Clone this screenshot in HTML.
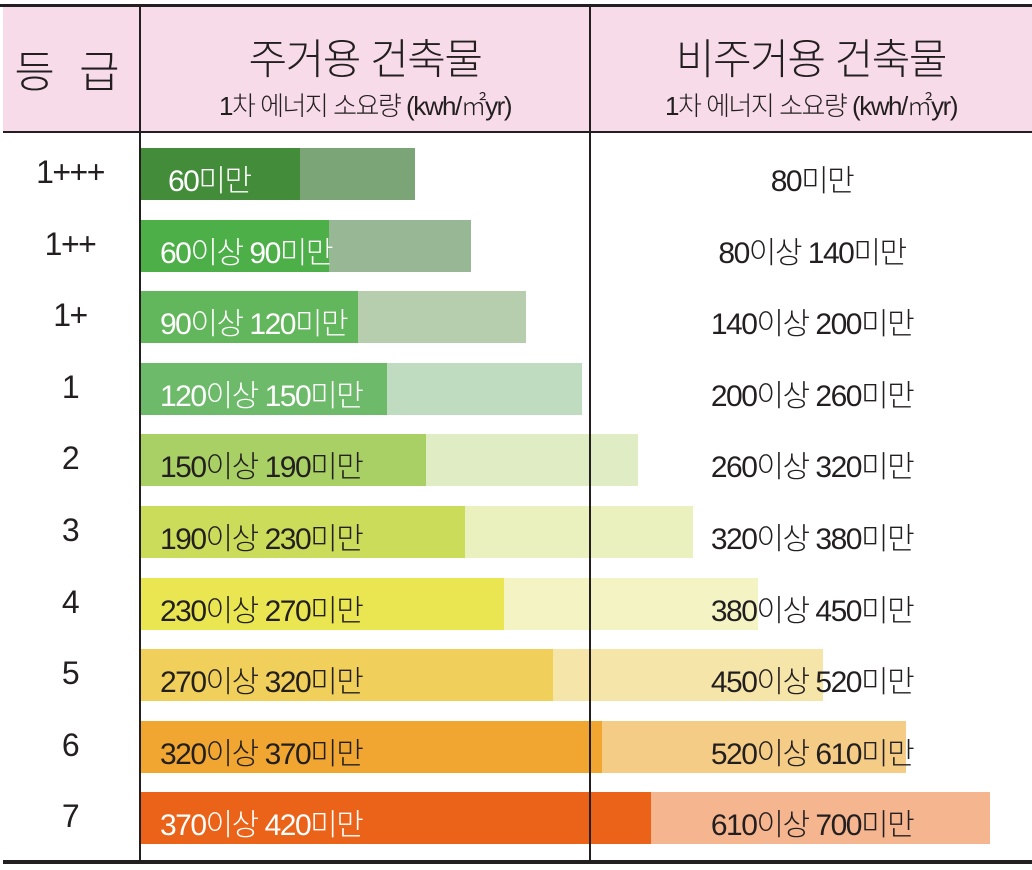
<!DOCTYPE html>
<html><head><meta charset="utf-8">
<style>
body{margin:0;width:1032px;height:870px;background:#fff;position:relative;overflow:hidden;font-family:"Liberation Sans","Noto Sans CJK KR",sans-serif;color:#231f20}
.a{position:absolute}
.t{position:absolute;white-space:nowrap;font-weight:300;letter-spacing:-1.5px}
</style></head><body>
<div class="a" style="left:3px;top:7px;width:1029px;height:125px;background:#f7dbe8"></div>
<div class="a" style="left:0;top:4px;width:1032px;height:3px;background:#231f20"></div>
<div class="a" style="left:3px;top:131px;width:1029px;height:2px;background:#231f20"></div>
<div class="a" style="left:3px;top:860px;width:1029px;height:4px;background:#231f20"></div>
<div class="t" style="left:0;width:140px;top:36px;text-align:center;font-size:44px;letter-spacing:6px">등 급</div>
<div class="t" style="left:140px;width:450px;top:26px;text-align:center;font-size:42px">주거용 건축물</div>
<div class="t" style="left:140px;width:450px;top:86px;text-align:center;font-size:26px">1차 에너지 소요량 (kwh/㎡yr)</div>
<div class="t" style="left:590px;width:442px;top:26px;text-align:center;font-size:42px">비주거용 건축물</div>
<div class="t" style="left:590px;width:442px;top:86px;text-align:center;font-size:26px">1차 에너지 소요량 (kwh/㎡yr)</div>
<div id="bars"></div>
<div class="a" style="left:139px;top:7px;width:2px;height:855px;background:#231f20"></div>
<div class="a" style="left:589px;top:7px;width:2px;height:855px;background:#231f20"></div>
<script>
const grades=["1+++","1++","1+","1","2","3","4","5","6","7"];
const resLow=[null,60,90,120,150,190,230,270,320,370];
const resHigh=[60,90,120,150,190,230,270,320,370,420];
const nonLow=[null,80,140,200,260,320,380,450,520,610];
const nonHigh=[80,140,200,260,320,380,450,520,610,700];
const darkCol=["#438c3a","#4daf48","#62b65b","#6dbb6a","#a9d064","#cbdc5a","#e9e652","#f0d05a","#f0a630","#ea6318"];
const lightCol=["#7ca577","#98b895","#b6cead","#c0dcc0","#e0ecc4","#eaf0be","#f3f3c3","#f6e5a9","#f4cc86","#f5b58e"];
const whiteText=[true,true,true,true,false,false,false,false,false,true];
const x0=141;
const resX=v=>x0+100+0.975*v;
const nonX=v=>x0+200+0.927*v;
const rowY=i=>148+71.6*i;
const root=document.getElementById('bars');
grades.forEach((g,i)=>{
  const y=rowY(i);
  const lab=document.createElement('div');
  lab.className='t';lab.style.cssText=`left:0;width:140px;top:${y+6}px;text-align:center;font-size:32px`;
  lab.textContent=g;
  
  
  root.appendChild(lab);
  const lb=document.createElement('div');
  lb.className='a';lb.style.cssText=`left:${x0}px;top:${y}px;width:${nonX(nonHigh[i])-x0}px;height:52px;background:${lightCol[i]}`;
  
  
  root.appendChild(lb);
  const db=document.createElement('div');
  db.className='a';db.style.cssText=`left:${x0}px;top:${y}px;width:${resX(resHigh[i])-x0}px;height:52px;background:${darkCol[i]}`;
  
  
  root.appendChild(db);
  const rt=document.createElement('div');
  rt.className='t';rt.style.cssText=`left:${i==0?168:160}px;top:${y+8}px;font-size:30px;color:${whiteText[i]?'#fff':'#231f20'}`;
  rt.textContent=resLow[i]==null?`${resHigh[i]}미만`:`${resLow[i]}이상 ${resHigh[i]}미만`;
  
  
  root.appendChild(rt);
  const nt=document.createElement('div');
  nt.className='t';nt.style.cssText=`left:592px;width:440px;top:${y+8}px;text-align:center;font-size:30px`;
  nt.textContent=nonLow[i]==null?`${nonHigh[i]}미만`:`${nonLow[i]}이상 ${nonHigh[i]}미만`;
  
  
  root.appendChild(nt);
});
</script>
</body></html>
